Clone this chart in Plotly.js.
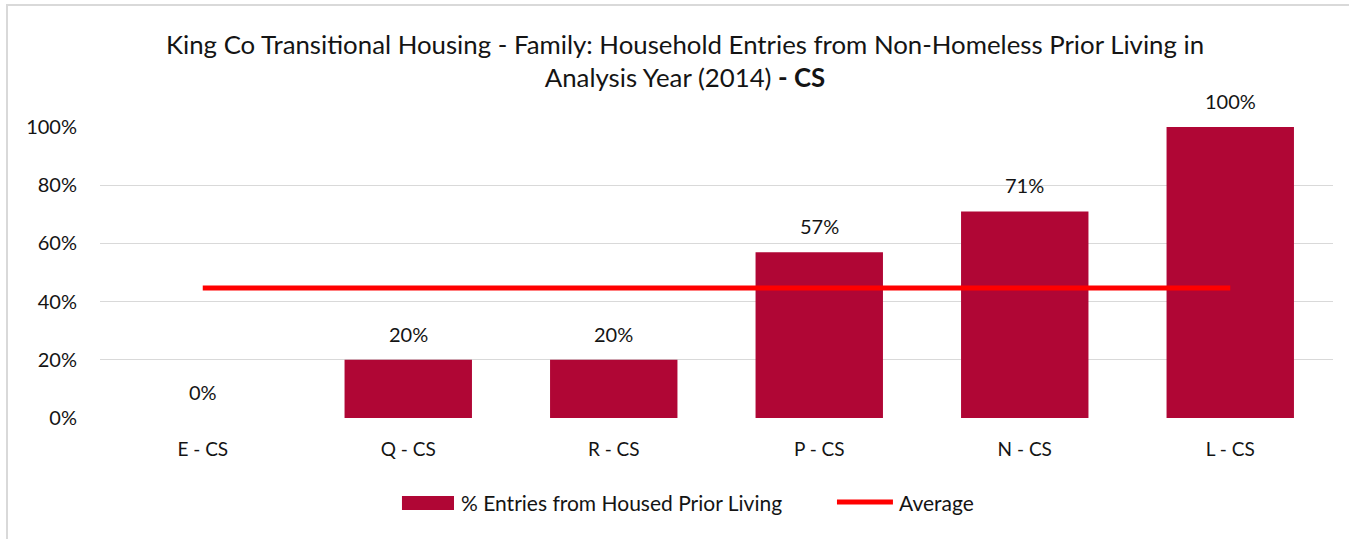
<!DOCTYPE html>
<html>
<head>
<meta charset="utf-8">
<script src="https://cdn.plot.ly/plotly-3.0.1.min.js"></script>
<style>
html,body{margin:0;padding:0;background:#fff;}
#wrap{position:relative;width:1349px;height:539px;overflow:hidden;}
#chart{width:1349px;height:539px;}
#frame{position:absolute;left:6px;top:4px;width:1349px;height:539px;border:2px solid #d9d9d9;box-sizing:border-box;pointer-events:none;}
</style>
</head>
<body>
<div id="wrap"><div id="chart"></div><div id="frame"></div></div>
<script>
const categories = ["E - CS", "Q - CS", "R - CS", "P - CS", "N - CS", "L - CS"];
const pctHoused = [0, 20, 20, 57, 71, 100];
const averageValues = [44.7, 44.7, 44.7, 44.7, 44.7, 44.7];
const yTicks = [0, 20, 40, 60, 80, 100];
const seriesNames = ["% Entries from Housed Prior Living", "Average"];

const FONT = "Lato, 'Open Sans', sans-serif";
const TXT = "#141414";
const BAR = "#B00635";
const AVG = "#FF0000";

const traces = [
  {
    type: "bar",
    name: seriesNames[0],
    x: categories,
    y: pctHoused,
    marker: {color: BAR},
    width: 0.62,
    hoverinfo: "skip",
    showlegend: false
  },
  {
    type: "scatter",
    mode: "lines",
    name: seriesNames[1],
    x: categories,
    y: averageValues,
    line: {color: AVG, width: 5},
    hoverinfo: "skip",
    showlegend: false
  }
];

// data labels placed through the axes' scales
const labelAnnotations = categories.map((c, i) => ({
  x: c, y: pctHoused[i], xref: "x", yref: "y",
  text: pctHoused[i] + "%",
  showarrow: false,
  xanchor: "center", yanchor: "bottom",
  yshift: 12,
  font: {family: FONT, size: 20, color: TXT}
}));

// custom legend (wide swatch like the reference)
const legendAnnotations = [
  {xref: "paper", yref: "paper", x: 0.2912, y: -0.2887, xanchor: "left", yanchor: "middle",
   text: seriesNames[0], showarrow: false, font: {family: FONT, size: 21, color: TXT}},
  {xref: "paper", yref: "paper", x: 0.6464, y: -0.2887, xanchor: "left", yanchor: "middle",
   text: seriesNames[1], showarrow: false, font: {family: FONT, size: 21, color: TXT}}
];
const legendShapes = [
  {type: "rect", xref: "paper", yref: "paper", x0: 0.2449, x1: 0.2871, y0: -0.3162, y1: -0.2680,
   fillcolor: BAR, line: {width: 0}},
  {type: "line", xref: "paper", yref: "paper", x0: 0.5977, x1: 0.6431, y0: -0.2887, y1: -0.2887,
   line: {color: AVG, width: 5}}
];

const layout = {
  width: 1349,
  height: 539,
  margin: {l: 100, r: 16, t: 127, b: 121},
  paper_bgcolor: "#ffffff",
  plot_bgcolor: "#ffffff",
  font: {family: FONT, size: 19, color: TXT},
  title: {
    text: "King Co Transitional Housing - Family: Household Entries from Non-Homeless Prior Living in<br>Analysis Year (2014) <b>- CS</b>",
    font: {family: FONT, size: 25.8, color: TXT},
    xref: "container", x: 0.5078, xanchor: "center",
    yref: "container", y: 0.9, yanchor: "top"
  },
  xaxis: {
    type: "category",
    showgrid: false,
    showline: false,
    zeroline: false,
    ticks: "",
    ticklabelstandoff: 18,
    tickfont: {family: FONT, size: 19, color: TXT}
  },
  yaxis: {
    range: [0, 100],
    tickvals: yTicks,
    ticktext: yTicks.map(v => v + "%"),
    showgrid: true,
    gridcolor: "#d9d9d9",
    gridwidth: 1.3,
    zeroline: false,
    showline: false,
    ticks: "",
    ticklabelstandoff: 22,
    tickfont: {family: FONT, size: 20, color: TXT}
  },
  showlegend: false,
  annotations: labelAnnotations.concat(legendAnnotations),
  shapes: legendShapes
};

Plotly.newPlot("chart", traces, layout, {displayModeBar: false, staticPlot: true});
</script>
</body>
</html>
